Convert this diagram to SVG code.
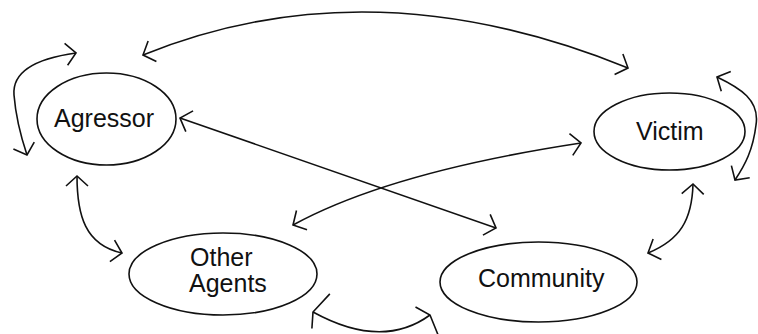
<svg xmlns="http://www.w3.org/2000/svg" width="758" height="334" viewBox="0 0 758 334">
<style>
.node ellipse{fill:#fff;stroke:#111;stroke-width:1.6}
.node text{font-family:"Liberation Sans",Arial,sans-serif;font-size:25px;fill:#111}
.conn path{fill:none;stroke:#111;stroke-width:1.6;marker-start:url(#head);marker-end:url(#head)}
.conn path.wide{marker-start:url(#headWide);marker-end:url(#headWide)}
</style>
<defs>
<marker id="head" markerUnits="userSpaceOnUse" viewBox="-20 -20 40 40" markerWidth="40" markerHeight="40" refX="0" refY="0" orient="auto-start-reverse" overflow="visible">
<path d="M-10,-11 L0,0 L-10,11" fill="none" stroke="#111" stroke-width="1.6"/>
</marker>
<marker id="headWide" markerUnits="userSpaceOnUse" viewBox="-30 -30 60 60" markerWidth="60" markerHeight="60" refX="0" refY="0" orient="auto-start-reverse" overflow="visible">
<path d="M-7,-15 L0,0 L-6,24" fill="none" stroke="#111" stroke-width="1.6"/>
</marker>
</defs>
<rect width="758" height="334" fill="#fff"/>
<g id="connectors" class="conn">
<path d="M143,55 Q370,-37 628,68"/>
<path d="M76,53 C40,58 12,70 14,95 C16,120 22,140 27,155"/>
<path d="M180,118 L496,228"/>
<path d="M293,225 Q390,172 581,143"/>
<path d="M77,176 C77,215 85,245 122,253"/>
<path d="M693,184 C692,220 680,240 648,253"/>
<path d="M717,77 C740,88 760,100 756,125 C753,150 745,165 735,180"/>
<path class="wide" d="M313,312 Q382,350 430,315"/>
</g>
<g id="agressor" class="node">
<ellipse cx="106.5" cy="119" rx="69.5" ry="46"/>
<text x="54" y="127">Agressor</text>
</g>
<g id="victim" class="node">
<ellipse cx="669.5" cy="131.5" rx="75.5" ry="38.5"/>
<text x="636" y="140">Victim</text>
</g>
<g id="other-agents" class="node">
<ellipse cx="223" cy="274" rx="94" ry="41"/>
<text x="190" y="266">Other</text>
<text x="189" y="292">Agents</text>
</g>
<g id="community" class="node">
<ellipse cx="538.5" cy="282" rx="98.5" ry="40"/>
<text x="478" y="287">Community</text>
</g>
</svg>
